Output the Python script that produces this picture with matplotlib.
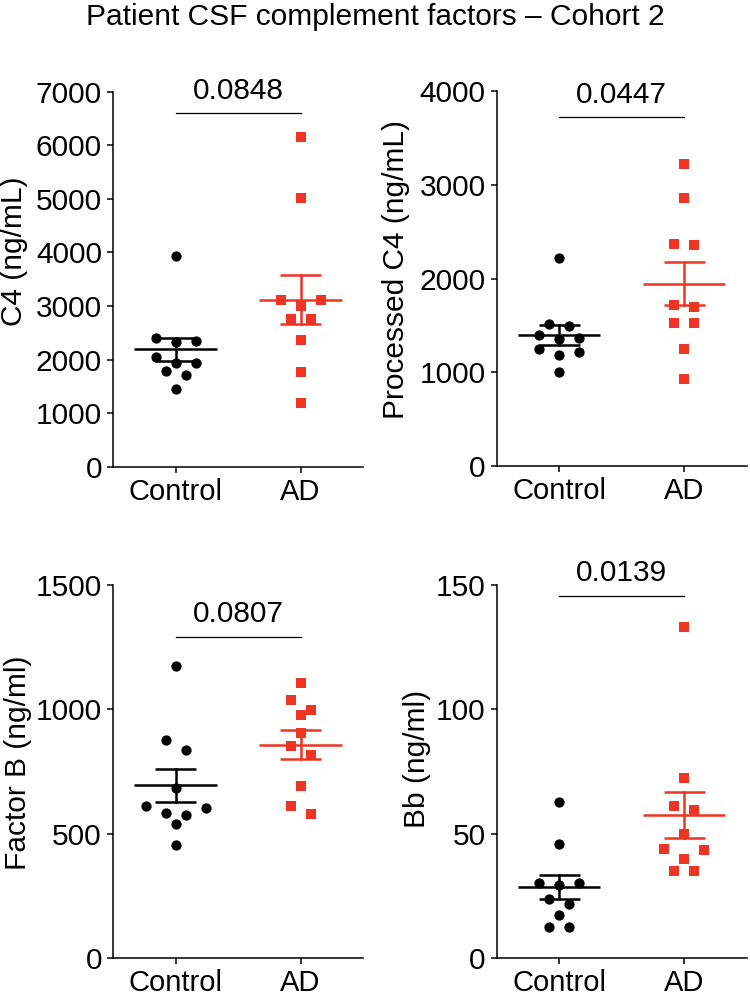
import numpy as np
import matplotlib
matplotlib.use('Agg')
import matplotlib.pyplot as plt

plt.rcParams['font.family'] = ['Liberation Sans', 'DejaVu Sans']

groups = ['Control', 'AD']

# values
c4_ctrl = [3939, 2396, 2352, 2334, 2041, 1941, 1941, 1792, 1711, 1444]
c4_ad = [6148, 5022, 3111, 3111, 2999, 2763, 2750, 2365, 1761, 1182]
pc4_ctrl = [2215, 1515, 1493, 1401, 1369, 1351, 1248, 1212, 1184, 999]
pc4_ad = [3221, 2862, 2368, 2357, 1717, 1700, 1522, 1522, 1244, 928]
fb_ctrl = [1173, 876, 839, 685, 614, 605, 585, 576, 541, 457]
fb_ad = [1106, 1039, 999, 979, 906, 852, 819, 692, 612, 581]
bb_ctrl = [62.9, 45.8, 30.2, 30.2, 29.4, 24.0, 22.0, 17.4, 12.7, 12.4]
bb_ad = [133.3, 72.3, 61.4, 59.6, 50.1, 44.1, 43.4, 40.1, 35.1, 35.1]

ylabels = ['C4 (ng/mL)', 'Processed C4 (ng/mL)', 'Factor B (ng/ml)', 'Bb (ng/ml)']
ymaxes = [7000, 4000, 1500, 150]
yticks = [np.arange(0, 7001, 1000), np.arange(0, 4001, 1000),
          np.arange(0, 1501, 500), np.arange(0, 151, 50)]
pvals = ['0.0848', '0.0447', '0.0807', '0.0139']

RED = '#EE3524'
W, H = 750, 999


def swarm(vals, px_per_unit, dx, thresh=10):
    # group values into rows (within thresh pixels) and spread each row
    vals = np.asarray(vals, float)
    order = np.argsort(-vals)
    offs = np.zeros(len(vals))
    i = 0
    while i < len(order):
        row = [order[i]]
        j = i + 1
        while j < len(order) and (vals[order[i]] - vals[order[j]]) * px_per_unit < thresh:
            row.append(order[j])
            j += 1
        n = len(row)
        pos = sorted([k - (n - 1) / 2 for k in range(n)], key=lambda p: (-abs(p), p))
        for idx, p in zip(row, pos):
            offs[idx] = p * dx
        i = j
    return offs


fig = plt.figure(figsize=(W / 100, H / 100), dpi=100)
fig.text(0.5, 1 - 17 / H, 'Patient CSF complement factors \u2013 Cohort 2',
         ha='center', va='center', fontsize=21.5)

rects = [[0.1507, 0.5328, 0.3333, 0.3754], [0.6623, 0.5335, 0.3333, 0.3754],
         [0.1507, 0.0407, 0.3333, 0.3737], [0.6623, 0.0407, 0.3333, 0.3737]]
label_pos = [(-0.396, 0.575), (-0.403, 0.525), (-0.382, 0.524), (-0.319, 0.535)]
bar_y = [0.9424, 0.930, 0.862, 0.9706]
data = [(c4_ctrl, c4_ad), (pc4_ctrl, pc4_ad), (fb_ctrl, fb_ad), (bb_ctrl, bb_ad)]

for k in range(4):
    ax = fig.add_axes(rects[k])
    ax.set_xlim(-0.5, 1.5)
    ax.set_ylim(0, ymaxes[k])
    h_px = rects[k][3] * H
    w_px = rects[k][2] * W
    ppu = h_px / ymaxes[k]
    dx = 20 / (w_px / 2.0)
    for g, (vals, col, mk, ms) in enumerate([(data[k][0], 'black', 'o', 7.4),
                                            (data[k][1], RED, 's', 6.8)]):
        vals = np.asarray(vals, float)
        x = g + swarm(vals, ppu, dx)
        ax.plot(x, vals, ls='none', marker=mk, ms=ms, mfc=col, mec=col,
                mew=0, clip_on=False, zorder=2)
        m = vals.mean()
        sem = vals.std(ddof=1) / np.sqrt(len(vals))
        ax.plot([g - 0.33, g + 0.33], [m, m], color=col, lw=1.8, zorder=3,
                solid_capstyle='butt')
        ax.plot([g, g], [m - sem, m + sem], color=col, lw=1.8, zorder=3)
        for yy in (m - sem, m + sem):
            ax.plot([g - 0.165, g + 0.165], [yy, yy], color=col, lw=1.8,
                    zorder=3, solid_capstyle='butt')
    ax.spines['top'].set_visible(False)
    ax.spines['right'].set_visible(False)
    for s in ('left', 'bottom'):
        ax.spines[s].set_linewidth(1.1)
    ax.set_xticks([0, 1])
    ax.set_xticklabels(groups)
    ax.set_yticks(yticks[k])
    ax.tick_params(axis='both', labelsize=21.5, width=1.1, length=4, color='black')
    ax.tick_params(axis='y', pad=4)
    ax.tick_params(axis='x', pad=4, labelsize=21)
    ax.text(label_pos[k][0], label_pos[k][1], ylabels[k], rotation=90,
            ha='center', va='center', fontsize=21.5, transform=ax.transAxes)
    tr = ax.get_xaxis_transform()
    ax.plot([0, 1], [bar_y[k], bar_y[k]], color='black', lw=0.9,
            transform=tr, clip_on=False)
    ax.annotate(pvals[k], xy=(0.5, bar_y[k]), xycoords=tr, xytext=(0, 10.5),
                textcoords='offset points', ha='center', va='baseline',
                fontsize=21.5)

fig.savefig('out.png', dpi=100)
